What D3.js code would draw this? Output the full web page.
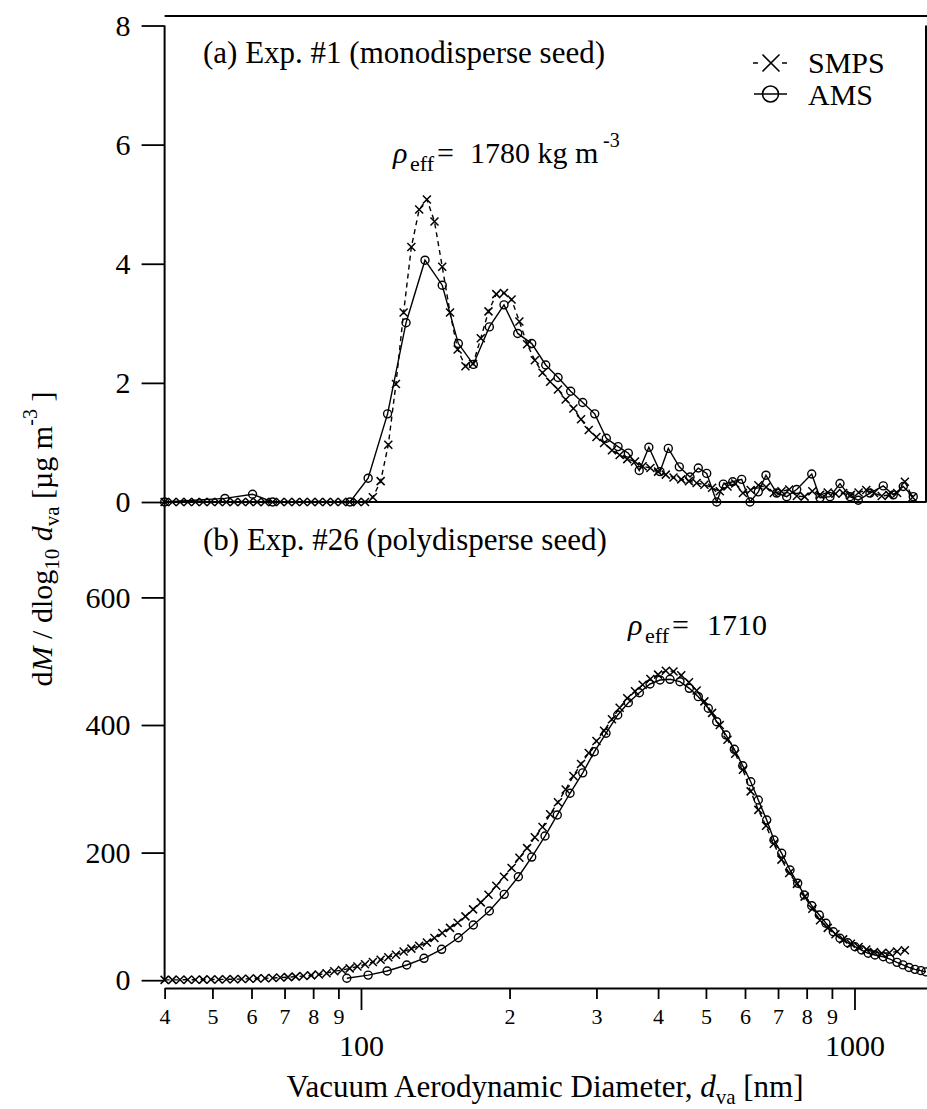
<!DOCTYPE html>
<html><head><meta charset="utf-8">
<script src="https://cdn.jsdelivr.net/npm/d3@7/dist/d3.min.js"></script>
<style>
body{margin:0;background:#fff;}
svg text{font-family:"Liberation Serif","Times New Roman",serif;fill:#000;}
</style></head><body>
<svg id="chart" width="927" height="1109"></svg>
<script>
// ---------------- data ----------------
// SMPS channel diameters (vacuum aerodynamic, nm)
const smpsDiam = [40,41.47,42.99,44.56,46.19,47.88,49.64,51.46,53.34,55.30,57.32,59.42,61.60,63.86,66.20,68.62,71.14,73.74,76.45,79.25,
82.15,85.16,88.28,91.51,94.87,98.34,101.9,105.7,109.6,113.6,117.7,122.0,126.5,131.2,136.0,140.9,146.1,151.5,157.0,162.8,
168.7,174.9,181.3,188.0,194.9,201.9,209.4,217.1,225.0,233.3,241.7,250.7,259.9,269.4,279.2,289.4,300.0,310.9,322.5,334.3,
346.4,359.1,372.2,385.9,400.0,414.6,429.8,445.6,461.9,478.8,496.4,514.6,533.4,552.9,573.2,594.2,616.0,638.5,661.9,686.2,
711.3,737.4,764.4,792.4,821.4,851.5,882.7,915.0,948.6,983.3,1019.3,1056.6,1095.4,1135.5,1177.1,1220.2,1264.9,1311.2];

// (a) Exp. #1 — SMPS
const smpsTopVals = [0,0,0,0,0,0,0,0,0,0,0,0,0,0,0,0,0,0,0,0,0,0,0,0,0,0,0,
0.08,0.35,0.96,1.98,3.18,4.28,4.91,5.08,4.71,3.95,3.18,2.56,2.28,2.32,2.75,3.2,3.49,3.51,3.40,3.03,2.65,2.38,2.17,
2.02,1.89,1.72,1.57,1.39,1.21,1.09,0.99,0.87,0.79,0.72,0.68,0.60,0.57,0.51,0.46,0.41,0.38,0.35,0.32,
0.29,0.24,0.18,0.26,0.31,0.15,0.2,0.28,0.25,0.15,0.18,0.21,0.1,0.09,0.18,0.12,0.16,0.14,0.15,0.12,
0.16,0.2,0.15,0.1,0.12,0.15,0.34,0.08];

// (a) Exp. #1 — AMS
const amsTopDiam = [40,53.0,60.3,66.2,95.0,103.4,113.2,123.4,134.8,146.1,157.5,168.9,182.0,194.9,207.8,221.8,236.8,250.8,266.0,281.4,
297.6,314.1,331.8,348.1,366.3,383.1,403.6,419.5,441.6,464.2,482.5,501.8,525.8,542.3,566.6,590.8,614.2,638.4,661.7,695.6,
728.8,763.6,819.1,851.4,892.0,934.6,979.2,1017.8,1074.9,1143.8,1198.4,1255.6,1315.5];
const amsTopVals = [0,0.06,0.13,0,0,0.40,1.48,3.01,4.06,3.64,2.66,2.31,2.94,3.31,2.83,2.66,2.30,2.09,1.86,1.67,
1.48,1.07,0.93,0.82,0.53,0.92,0.51,0.90,0.59,0.42,0.57,0.48,0.0,0.30,0.34,0.38,0.0,0.17,0.45,0.15,
0.09,0.21,0.47,0.07,0.09,0.31,0.09,0.03,0.15,0.27,0.12,0.26,0.09];

// (b) Exp. #26 — SMPS
const smpsBotVals = [0.5,0.5,0.6,0.7,0.8,0.9,1.0,1.2,1.4,1.6,1.9,2.2,2.6,3.0,3.5,4.1,4.8,5.6,6.5,7.6,
8.8,11,14,16,18.5,21.5,25,28.5,32,36,40,45,49.5,54,59,66,74,82,90,100,
111,122,134,148,162,176,192,207,224,240,260,279,299,320,339,356,375,391,409,427,
442,453,463,472,479,485,484,478,467,454,437,419,400,377,355,330,296,267,242,214,
189,168,151,131,112,94,82,72,64,57,52,48,44,42,43,45,47];

// (b) Exp. #26 — AMS
const amsBotDiam = [93.6,103.4,113.0,123.8,134.2,145.7,157.5,168.9,182.0,195.1,208.4,221.8,236.0,249.9,265.2,281.4,297.0,313.7,331.3,348.1,
366.5,385.2,403.6,422.8,443.0,462.7,482.5,505.6,525.8,549.1,570.8,593.6,616.2,638.4,663.9,686.9,712.0,740.2,767.2,791.2,
819.1,848.6,875.5,905.9,934.6,968.7,1002.3,1034.1,1066.4,1100.3,1143.8,1180.1,1219.3,1253.8,1289.4,1326.0,1363.6,1395.8];
const amsBotVals = [3,8,14.4,23.8,34.3,48.4,66.6,86.5,108.5,134.6,162.2,193,226,259,293,325,358,387,415.7,435,
450.6,464.3,470.5,471.6,467.9,457.5,444.4,426.2,405.2,384.3,361.9,336.2,311.1,282.4,251.1,219.7,198.9,172.7,151.9,133.5,
116.8,102.2,89.2,76,65.7,58.8,52.5,47.3,42.2,39.5,36.8,33,28,24,20,17,15,13];

// ticks
const yTopTicks = [0,2,4,6,8];
const yBotTicks = [0,200,400,600];
const xMinorTicks = [40,50,60,70,80,90,200,300,400,500,600,700,800,900];
const xMinorLabels = ["4","5","6","7","8","9","2","3","4","5","6","7","8","9"];
const xMajorTicks = [100,1000];

// ---------------- drawing ----------------
const svg = d3.select('#chart');
const x = d3.scaleLog().domain([40,1400]).range([164.6,926.6]);
const yTop = d3.scaleLinear().domain([0,8]).range([502,25.5]);
const yBot = d3.scaleLinear().domain([0,600]).range([980.2,597.4]);
const FONT = '"Liberation Serif","Times New Roman",serif';

const ink = '#000';
// frame lines
svg.append('line').attr('x1',x(40)).attr('x2',927).attr('y1',16).attr('y2',16)
  .attr('stroke',ink).attr('stroke-width',2);
svg.append('line').attr('x1',x(40)).attr('x2',x(40)).attr('y1',yTop(8)).attr('y2',yBot(0))
  .attr('stroke',ink).attr('stroke-width',2);
svg.append('line').attr('x1',926).attr('x2',926).attr('y1',yTop(8)).attr('y2',yTop(0))
  .attr('stroke',ink).attr('stroke-width',2);
svg.append('line').attr('x1',x(40)).attr('x2',x(1400)).attr('y1',yTop(0)).attr('y2',yTop(0))
  .attr('stroke',ink).attr('stroke-width',2);

function styleAxis(g, fs){
  g.attr('font-family',FONT).attr('font-size',fs);
  g.selectAll('.tick line').attr('stroke',ink).attr('stroke-width',1.8);
  g.selectAll('.tick text').attr('fill',ink);
}
// y axes
const gYT = svg.append('g').attr('transform',`translate(${x(40)},0)`)
  .call(d3.axisLeft(yTop).tickValues(yTopTicks).tickSize(23).tickPadding(11).tickFormat(d3.format('d')));
gYT.select('.domain').remove(); styleAxis(gYT,30);
const gYB = svg.append('g').attr('transform',`translate(${x(40)},0)`)
  .call(d3.axisLeft(yBot).tickValues(yBotTicks).tickSize(23).tickPadding(11).tickFormat(d3.format('d')));
gYB.select('.domain').remove(); styleAxis(gYB,30);

// x axis
const axY = 988;
const gXm = svg.append('g').attr('transform',`translate(0,${axY})`)
  .call(d3.axisBottom(x).tickValues(xMinorTicks).tickSize(11).tickSizeOuter(0).tickPadding(9)
    .tickFormat((d,i)=>xMinorLabels[i]));
gXm.select('.domain').attr('stroke',ink).attr('stroke-width',2);
styleAxis(gXm,22);
const gXM = svg.append('g').attr('transform',`translate(0,${axY})`)
  .call(d3.axisBottom(x).tickValues(xMajorTicks).tickSize(22).tickPadding(25).tickFormat(d3.format('d')));
gXM.select('.domain').remove(); styleAxis(gXM,30);

// series
function drawSeries(diam, vals, y, kind){
  const pts = d3.zip(diam.slice(0,vals.length), vals);
  const line = d3.line().x(d=>x(d[0])).y(d=>y(d[1]));
  svg.append('path').datum(pts).attr('d',line).attr('fill','none').attr('stroke',ink)
    .attr('stroke-width',1.4).attr('stroke-dasharray', kind==='smps' ? '5,4' : null);
  const g = svg.append('g');
  if(kind==='smps'){
    g.selectAll('path').data(pts).join('path')
      .attr('transform',d=>`translate(${x(d[0])},${y(d[1])})`)
      .attr('d','M-4,-4L4,4M-4,4L4,-4').attr('stroke',ink).attr('stroke-width',1.5).attr('fill','none');
  } else {
    g.selectAll('circle').data(pts).join('circle')
      .attr('cx',d=>x(d[0])).attr('cy',d=>y(d[1])).attr('r',4)
      .attr('stroke',ink).attr('stroke-width',1.4).attr('fill','none');
  }
}
drawSeries(smpsDiam, smpsTopVals, yTop, 'smps');
drawSeries(amsTopDiam, amsTopVals, yTop, 'ams');
drawSeries(smpsDiam, smpsBotVals, yBot, 'smps');
drawSeries(amsBotDiam, amsBotVals, yBot, 'ams');

// panel labels
svg.append('text').attr('x',203).attr('y',63).attr('font-size',31).text('(a) Exp. #1 (monodisperse seed)');
svg.append('text').attr('x',203).attr('y',550).attr('font-size',31).text('(b) Exp. #26 (polydisperse seed)');

// density annotations
function rho(x0, y0, rest, restX, sup){
  const t = svg.append('text').attr('x',x0).attr('y',y0).attr('font-size',30);
  t.append('tspan').attr('font-style','italic').text('ρ');
  t.append('tspan').attr('x',x0+17).attr('dy',8).attr('font-size',22).text('eff');
  t.append('tspan').attr('x',x0+44).attr('dy',-8).text('=');
  t.append('tspan').attr('x',restX).text(rest);
  if(sup){ t.append('tspan').attr('x',restX+133).attr('dy',-16).attr('font-size',20).text(sup); }
}
rho(393,163,'1780 kg m',470,'-3');
rho(628,635,'1710',707,null);

// legend
const lg = svg.append('g');
lg.append('line').attr('x1',753).attr('x2',758).attr('y1',63).attr('y2',63).attr('stroke',ink).attr('stroke-width',1.5);
lg.append('line').attr('x1',782).attr('x2',787).attr('y1',63).attr('y2',63).attr('stroke',ink).attr('stroke-width',1.5);
lg.append('path').attr('transform','translate(771,63)').attr('d','M-8.5,-8.5L8.5,8.5M-8.5,8.5L8.5,-8.5')
  .attr('stroke',ink).attr('stroke-width',1.6).attr('fill','none');
lg.append('line').attr('x1',754).attr('x2',787).attr('y1',94).attr('y2',94).attr('stroke',ink).attr('stroke-width',1.5);
lg.append('circle').attr('cx',770.5).attr('cy',94).attr('r',8).attr('stroke',ink).attr('stroke-width',1.6).attr('fill','none');
lg.append('text').attr('x',808).attr('y',72.5).attr('font-size',30).text('SMPS');
lg.append('text').attr('x',808).attr('y',105).attr('font-size',30).text('AMS');

// axis titles
const xt = svg.append('text').attr('x',545).attr('y',1097).attr('font-size',31).attr('text-anchor','middle');
xt.append('tspan').text('Vacuum Aerodynamic Diameter, ');
xt.append('tspan').attr('font-style','italic').text('d');
xt.append('tspan').attr('font-size',21).attr('dy',7).text('va');
xt.append('tspan').attr('dy',-7).text(' [nm]');

const yt = svg.append('text').attr('transform','translate(52,539) rotate(-90)').attr('font-size',30).attr('text-anchor','middle');
yt.append('tspan').text('d');
yt.append('tspan').attr('font-style','italic').text('M');
yt.append('tspan').text(' / dlog');
yt.append('tspan').attr('font-size',21).attr('dy',7).text('10');
yt.append('tspan').attr('dy',-7).text(' ');
yt.append('tspan').attr('font-style','italic').text('d');
yt.append('tspan').attr('font-size',21).attr('dy',7).text('va');
yt.append('tspan').attr('dy',-7).text(' [µg m');
yt.append('tspan').attr('font-size',20).attr('dy',-15).text('-3');
yt.append('tspan').attr('dy',15).text(' ]');
</script>
</body></html>
